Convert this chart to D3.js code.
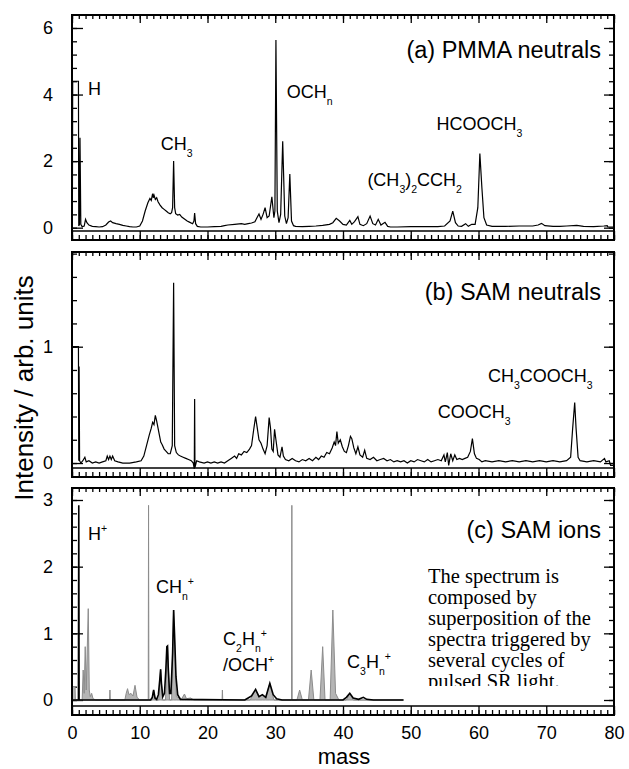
<!DOCTYPE html>
<html>
<head>
<meta charset="utf-8">
<script src="https://cdn.jsdelivr.net/npm/d3@7"></script>
<style>
body { margin: 0; background: #fff; }
text { font-family: "Liberation Sans", Arial, sans-serif; fill: #000; }
</style>
</head>
<body>
<svg id="chart" width="629" height="769"></svg>
<script>
// tick labels
var massTicks = [0, 10, 20, 30, 40, 50, 60, 70, 80];
var yTicksA = [0, 2, 4, 6];
var yTicksB = [0, 1];
var yTicksC = [0, 1, 2, 3];

// (a) PMMA neutrals  [mass, intensity]
var pmma = [
  [0.05,0],[0.1,4.4],[0.95,4.4],[1.0,0.05],[1.1,0.1],[1.18,2.7],[1.3,0.1],[1.5,0.03],[1.8,0.05],[2.0,0.25],
  [2.2,0.15],[2.5,0.08],[3,0.04],[3.5,0.03],[4,0.02],[4.5,0.03],[5.0,0.08],[5.4,0.17],[5.7,0.2],[6.0,0.15],
  [6.5,0.12],[7,0.1],[7.5,0.07],[8,0.05],[8.5,0.03],[9,0.02],[9.5,0.02],[10,0.05],[10.4,0.2],[10.8,0.5],
  [11.2,0.75],[11.5,0.88],[11.7,0.82],[11.9,1.02],[12.0,0.9],[12.1,0.98],[12.3,0.85],[12.5,0.9],[12.7,0.78],[13,0.68],
  [13.3,0.6],[13.6,0.55],[13.9,0.5],[14.2,0.45],[14.5,0.42],[14.7,0.45],[14.85,0.6],[15.0,2.0],[15.15,0.6],[15.3,0.42],
  [15.6,0.38],[15.9,0.4],[16.2,0.32],[16.6,0.26],[17,0.2],[17.4,0.16],[17.8,0.12],[18.0,0.2],[18.1,0.44],[18.25,0.12],
  [18.5,0.04],[19,0.02],[19.5,0.02],[20,0.02],[21,0.03],[22,0.04],[22.5,0.06],[23,0.08],[24,0.1],[25,0.12],
  [25.5,0.1],[26,0.12],[26.5,0.14],[27,0.18],[27.3,0.3],[27.6,0.41],[27.9,0.25],[28.2,0.4],[28.5,0.6],[28.8,0.3],
  [29.1,0.35],[29.5,0.93],[29.8,0.3],[29.95,0.5],[30.1,5.64],[30.3,0.5],[30.55,0.15],[30.8,0.4],[31.1,2.6],[31.4,0.35],
  [31.65,0.12],[31.9,0.3],[32.15,1.61],[32.4,0.2],[32.7,0.06],[33,0.04],[34,0.03],[35,0.04],[36,0.05],[37,0.07],
  [38,0.1],[38.5,0.15],[39,0.28],[39.5,0.2],[40,0.1],[40.5,0.08],[41,0.22],[41.3,0.1],[41.7,0.18],[42.2,0.33],
  [42.5,0.1],[43,0.06],[43.5,0.12],[44.0,0.35],[44.4,0.12],[44.8,0.08],[45.2,0.25],[45.6,0.08],[46.2,0.16],[46.6,0.04],
  [47,0.02],[48,0.02],[50,0.03],[52,0.03],[54,0.03],[55,0.05],[55.8,0.2],[56.2,0.5],[56.6,0.15],[57,0.05],
  [57.5,0.04],[58.1,0.12],[58.5,0.04],[59,0.1],[59.5,0.1],[59.9,0.6],[60.2,2.23],[60.5,1.2],[60.8,0.3],[61.2,0.08],
  [62,0.04],[64,0.04],[66,0.05],[68,0.05],[68.8,0.08],[69.3,0.13],[69.8,0.06],[71,0.04],[72,0.04],[73,0.05],
  [74.5,0.07],[75.5,0.04],[77,0.03],[78.5,0.05],[79,0.06],[79.1,0.02],[80,0.02]
];

// (b) SAM neutrals
var samNeutral = [
  [0,0],[0.05,1.0],[0.95,1.0],[1.0,0.02],[1.05,0.83],[1.12,0.02],[1.3,0.0],[1.6,0.02],[1.9,0.05],[2.1,0.01],
  [2.5,0.02],[3,0.0],[3.5,0.01],[4,0.0],[4.5,0.01],[5.0,0.02],[5.2,0.06],[5.4,0.03],[5.6,0.06],[5.8,0.03],
  [6.0,0.06],[6.3,0.02],[6.8,0.01],[7.5,0.0],[8.5,0.0],[9.5,0.01],[10.2,0.02],[10.6,0.06],[11,0.15],[11.4,0.24],
  [11.7,0.3],[11.9,0.35],[12.1,0.33],[12.3,0.41],[12.5,0.36],[12.7,0.3],[12.9,0.24],[13.1,0.18],[13.3,0.16],[13.6,0.12],
  [13.9,0.1],[14.2,0.08],[14.5,0.08],[14.8,0.15],[15.0,1.55],[15.15,0.15],[15.4,0.09],[15.7,0.07],[16,0.06],[16.4,0.05],
  [16.8,0.04],[17.2,0.03],[17.6,0.02],[17.9,0.0],[18.05,-0.05],[18.1,0.55],[18.15,-0.04],[18.4,0.02],[18.8,0.01],[19.5,0.0],
  [20,0.01],[20.5,0.0],[21,0.01],[21.5,0.0],[22,0.01],[22.5,0.0],[23,0.02],[23.5,0.04],[24,0.06],[24.3,0.04],
  [24.6,0.08],[25,0.07],[25.4,0.1],[25.8,0.09],[26.2,0.12],[26.5,0.15],[26.8,0.28],[27.1,0.4],[27.3,0.32],[27.6,0.2],
  [27.9,0.17],[28.2,0.12],[28.5,0.08],[28.8,0.15],[29.1,0.39],[29.3,0.3],[29.5,0.12],[29.7,0.1],[29.9,0.29],[30.1,0.2],
  [30.4,0.07],[30.7,0.05],[31.0,0.14],[31.2,0.06],[31.5,0.03],[32,0.02],[32.5,0.04],[33,0.02],[33.5,0.01],[34,0.03],
  [34.5,0.02],[35,0.04],[35.5,0.02],[36,0.05],[36.4,0.03],[36.8,0.06],[37.2,0.05],[37.6,0.09],[38.0,0.08],[38.4,0.13],
  [38.7,0.18],[38.9,0.15],[39.1,0.27],[39.3,0.17],[39.6,0.2],[39.9,0.14],[40.2,0.1],[40.5,0.09],[40.8,0.15],[41.1,0.23],
  [41.3,0.21],[41.6,0.13],[41.9,0.08],[42.2,0.14],[42.5,0.07],[42.9,0.05],[43.2,0.11],[43.5,0.04],[44,0.03],[44.5,0.05],
  [45,0.02],[45.5,0.03],[46,0.04],[46.5,0.02],[47,0.03],[47.5,0.01],[48,0.02],[48.5,0.01],[49,0.02],[49.5,0.0],
  [50,0.02],[50.5,0.01],[51,0.03],[51.5,0.02],[52,0.01],[52.5,0.03],[53,0.01],[53.5,0.02],[54,0.03],[54.5,0.02],
  [54.9,0.07],[55.1,0.01],[55.4,0.09],[55.6,-0.02],[55.9,0.08],[56.2,0.02],[56.5,0.07],[56.8,0.03],[57.2,0.04],[57.6,0.03],
  [58,0.04],[58.4,0.05],[58.8,0.1],[59.1,0.21],[59.4,0.08],[59.7,0.04],[60.1,0.03],[60.5,0.01],[61,0.02],[62,0.01],
  [63,0.02],[64,0.01],[65,0.02],[66,0.01],[67,0.02],[68,0.01],[69,0.02],[70,0.01],[71,0.02],[72,0.01],
  [73,0.02],[73.6,0.05],[73.9,0.3],[74.2,0.52],[74.4,0.3],[74.7,0.05],[75,0.02],[76,0.01],[77,0.02],[78,0.01],
  [78.6,0.04],[78.8,0.01],[79.3,0.02],[79.5,-0.02],[80,-0.02]
];

// (c) SAM ions, main spectrum
var samIons = [
  [0,0],[0.95,0],[1.0,2.92],[1.05,0],[11.6,0],[11.85,0.04],[12.05,0.15],[12.25,0.03],[12.5,0.01],[12.75,0.08],
  [12.95,0.3],[13.08,0.46],[13.2,0.25],[13.4,0.05],[13.65,0.1],[13.85,0.45],[14.0,0.8],[14.1,0.81],[14.2,0.5],[14.4,0.1],
  [14.6,0.1],[14.85,0.7],[15.0,1.35],[15.15,0.95],[15.35,0.35],[15.6,0.08],[16,0.01],[25.5,0.0],[26,0.03],[26.5,0.06],
  [27.1,0.16],[27.6,0.05],[28.1,0.08],[28.6,0.04],[29.2,0.25],[29.7,0.08],[30.2,0.02],[31,0],[40,0],[40.5,0.04],
  [41,0.1],[41.5,0.03],[42.3,0.01],[43,0.04],[43.5,0.01],[44.5,0],[48.9,0]
];

// (c) superposed spectra from other SR cycles (grey)
var samIonsCycles = [
  [0,0],[0.05,0.2],[0.45,0.2],[0.5,0],[1.5,0],[1.65,0.45],[1.8,0.1],[1.95,0.8],[2.1,0.15],[2.4,1.37],
  [2.55,0.15],[2.7,0.05],[2.9,0.1],[3.1,0.02],[3.5,0],[5.55,0],[5.6,0.15],[5.65,0],[7.8,0],[8.0,0.1],
  [8.2,0.17],[8.4,0.08],[8.7,0.1],[9.0,0.06],[9.3,0.22],[9.6,0.04],[10,0],[11.25,0],[11.3,2.92],[11.35,0],
  [11.8,0],[12.05,0.15],[12.3,0],[12.8,0],[13.08,0.46],[13.35,0],[13.8,0],[14.1,0.81],[14.4,0],[14.7,0],
  [15.0,1.35],[15.4,0.05],[16.2,0.02],[16.6,0.09],[16.9,0.02],[17.5,0.03],[18,0],[22.15,0],[22.2,0.15],[22.25,0],
  [26.3,0],[27.1,0.16],[27.6,0.04],[28.1,0.08],[28.6,0.03],[29.2,0.25],[29.8,0],[32.4,0],[32.45,2.92],[32.5,0],
  [33.2,0],[33.6,0.15],[34,0],[34.9,0],[35.3,0.45],[35.7,0],[36.6,0],[37.0,0.8],[37.35,0],[38.1,0],
  [38.5,1.35],[38.9,0.1],[39.4,0],[40.5,0],[41,0.1],[41.5,0],[49,0]
];

var note = ["The spectrum is", "composed by", "superposition of the", "spectra triggered by", "several cycles of", "pulsed SR light."];

var svg = d3.select("#chart");
var x = d3.scaleLinear().domain([0, 80]).range([72, 614]);

var panels = [
  {id: "a", top: 15, bottom: 240, dom: [-0.37, 6.39], ticks: yTicksA, minor: 0.4, title: "(a) PMMA neutrals", titleY: 58},
  {id: "b", top: 252, bottom: 477, dom: [-0.12, 1.814], ticks: yTicksB, minor: 0.2, title: "(b) SAM neutrals", titleY: 300},
  {id: "c", top: 488, bottom: 715, dom: [-0.225, 3.18], ticks: yTicksC, minor: 0.2, title: "(c) SAM ions", titleY: 538}
];

// rich text with sub/superscripts: parts = [[text, "sub"|"sup"|undefined], ...]
function rich(g, px, py, parts, size) {
  var t = g.append("text").attr("x", px).attr("y", py).attr("font-size", size);
  var shift = 0;
  parts.forEach(function(p) {
    var want = p[1] === "sub" ? 7 : p[1] === "sup" ? -8 : 0;
    t.append("tspan")
      .attr("dy", want - shift)
      .attr("font-size", p[1] ? 10.5 : size)
      .text(p[0]);
    shift = want;
  });
  return t;
}

panels.forEach(function(p) {
  var y = d3.scaleLinear().domain(p.dom).range([p.bottom, p.top]);
  p.y = y;
  var g = svg.append("g");

  g.append("clipPath").attr("id", "clip" + p.id)
    .append("rect").attr("x", 72).attr("y", p.top).attr("width", 542).attr("height", p.bottom - p.top);

  var minors = d3.range(p.dom[0] < 0 ? 0 : p.dom[0], p.dom[1], p.minor);

  // left axis
  g.append("g").attr("transform", "translate(72,0)")
    .call(d3.axisLeft(y).tickValues(minors).tickSize(-5).tickFormat(""));
  g.append("g").attr("transform", "translate(72,0)")
    .call(d3.axisLeft(y).tickValues(p.ticks).tickSize(-11).tickPadding(19).tickFormat(d3.format("d")))
    .selectAll("text").attr("font-size", 18).attr("font-family", "Liberation Sans, Arial, sans-serif");
  // right axis
  g.append("g").attr("transform", "translate(614,0)")
    .call(d3.axisRight(y).tickValues(minors).tickSize(-5).tickFormat(""));
  g.append("g").attr("transform", "translate(614,0)")
    .call(d3.axisRight(y).tickValues(p.ticks).tickSize(-10).tickFormat(""));
  // top axis
  g.append("g").attr("transform", "translate(0," + p.top + ")")
    .call(d3.axisTop(x).tickValues(d3.range(0, 81, 1)).tickSize(-4).tickFormat(""));
  g.append("g").attr("transform", "translate(0," + p.top + ")")
    .call(d3.axisTop(x).tickValues(massTicks).tickSize(-8).tickFormat(""));
  // bottom axis
  g.append("g").attr("transform", "translate(0," + p.bottom + ")")
    .call(d3.axisBottom(x).tickValues(d3.range(0, 81, 1)).tickSize(-5).tickFormat(""));
  var bx = g.append("g").attr("transform", "translate(0," + p.bottom + ")")
    .call(d3.axisBottom(x).tickValues(massTicks).tickSize(-9).tickPadding(11)
      .tickFormat(p.id === "c" ? d3.format("d") : ""));
  bx.selectAll("text").attr("font-size", 18).attr("font-family", "Liberation Sans, Arial, sans-serif");

  g.selectAll(".domain").remove();
  g.selectAll(".tick line").attr("stroke", "#000").attr("stroke-width", 1.3);

  // strip line above bottom ticks
  g.append("line").attr("x1", 72).attr("x2", 614)
    .attr("y1", p.bottom - 9).attr("y2", p.bottom - 9)
    .attr("stroke", "#000").attr("stroke-width", 1.3);

  var plot = g.append("g").attr("clip-path", "url(#clip" + p.id + ")");
  var line = d3.line().x(function(d) { return x(d[0]); }).y(function(d) { return y(d[1]); });

  if (p.id === "c") {
    var area = d3.area().x(function(d) { return x(d[0]); }).y0(y(0)).y1(function(d) { return y(d[1]); });
    plot.append("path").datum(samIonsCycles).attr("d", area)
      .attr("fill", "#b5b5b5").attr("stroke", "#8c8c8c").attr("stroke-width", 1);
    plot.append("path").datum(samIons).attr("d", line)
      .attr("fill", "none").attr("stroke", "#000").attr("stroke-width", 1.6);
  } else {
    plot.append("path").datum(p.id === "a" ? pmma : samNeutral).attr("d", line)
      .attr("fill", "none").attr("stroke", "#000").attr("stroke-width", 1.2);
  }

  // frame
  g.append("rect").attr("x", 72).attr("y", p.top).attr("width", 542).attr("height", p.bottom - p.top)
    .attr("fill", "none").attr("stroke", "#000").attr("stroke-width", 2);

  g.append("text").attr("x", 601).attr("y", p.titleY).attr("text-anchor", "end")
    .attr("font-size", 23.5).text(p.title);
});

var ya = panels[0].y, yb = panels[1].y, yc = panels[2].y;
var ga = svg.append("g"), gb = svg.append("g"), gc = svg.append("g");
var fs = 18;

// panel (a) labels
rich(ga, x(2.35), ya(4.0), [["H"]], fs);
rich(ga, x(13.1), ya(2.33), [["CH"], ["3", "sub"]], fs);
rich(ga, x(31.7), ya(3.9), [["OCH"], ["n", "sub"]], fs);
rich(ga, x(43.6), ya(1.25), [["(CH"], ["3", "sub"], [")"], ["2", "sub"], ["CCH"], ["2", "sub"]], fs);
rich(ga, x(53.8), ya(2.93), [["HCOOCH"], ["3", "sub"]], fs);

// panel (b) labels
rich(gb, x(61.4), yb(0.7), [["CH"], ["3", "sub"], ["COOCH"], ["3", "sub"]], fs);
rich(gb, x(54), yb(0.385), [["COOCH"], ["3", "sub"]], fs);

// panel (c) labels
rich(gc, x(2.35), yc(2.4), [["H"], ["+", "sup"]], fs);
rich(gc, x(12.4), yc(1.6), [["CH"], ["n", "sub"], ["+", "sup"]], fs);
rich(gc, x(22.3), yc(0.83), [["C"], ["2", "sub"], ["H"], ["n", "sub"], ["+", "sup"]], fs);
rich(gc, x(22.3), yc(0.43), [["/OCH"], ["+", "sup"]], fs);
rich(gc, x(40.6), yc(0.48), [["C"], ["3", "sub"], ["H"], ["n", "sub"], ["+", "sup"]], fs);

// note, clipped at its box
gc.append("clipPath").attr("id", "noteClip")
  .append("rect").attr("x", 420).attr("y", 560).attr("width", 190).attr("height", 126);
var nt = gc.append("text").attr("clip-path", "url(#noteClip)")
  .attr("font-family", "Liberation Serif, Times New Roman, serif").attr("font-size", 20.5);
note.forEach(function(s, i) {
  nt.append("tspan").attr("x", 428).attr("y", 583 + i * 21).attr("font-family", "Liberation Serif, serif").text(s);
});

// axis titles
svg.append("text").attr("x", 344).attr("y", 764).attr("text-anchor", "middle")
  .attr("font-size", 22).text("mass");
svg.append("text").attr("transform", "translate(33,388) rotate(-90)").attr("text-anchor", "middle")
  .attr("font-size", 26).text("Intensity  / arb. units");
</script>
</body>
</html>
